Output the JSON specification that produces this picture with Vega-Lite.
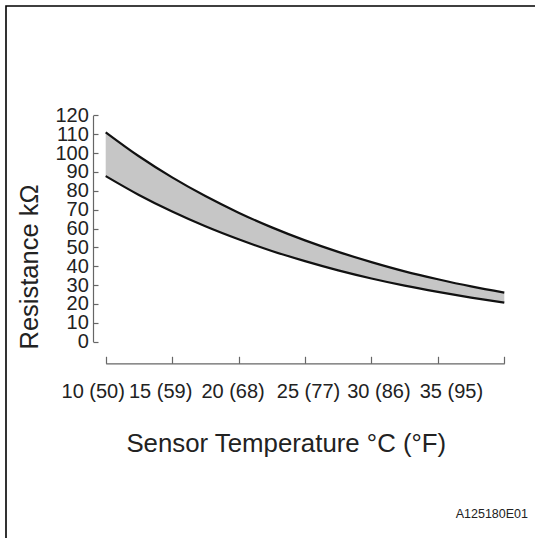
{
  "$schema": "https://vega.github.io/schema/vega-lite/v6.json",
  "autosize": "none",
  "padding": {"left": 6, "top": 6, "right": 0, "bottom": 0},
  "width": 529,
  "height": 532,
  "background": "white",
  "config": {
    "view": {"stroke": "#000", "strokeWidth": 1.6, "strokeDash": [529, 1061, 532]},
    "font": "Liberation Sans"
  },
  "title": {
    "text": "A125180E01",
    "orient": "bottom",
    "anchor": "end",
    "frame": "group",
    "baseline": "alphabetic",
    "offset": -20.5,
    "dx": -7,
    "fontSize": 12.5,
    "fontWeight": "normal",
    "color": "#222"
  },
  "data": {
    "values": [
      {"t": 10, "upper": 111, "lower": 87.8},
      {"t": 12.5, "upper": 98.3, "lower": 77.8},
      {"t": 15, "upper": 87.1, "lower": 69.0},
      {"t": 17.5, "upper": 77.2, "lower": 61.2},
      {"t": 20, "upper": 68.4, "lower": 54.3},
      {"t": 22.5, "upper": 60.6, "lower": 48.1},
      {"t": 25, "upper": 53.7, "lower": 42.7},
      {"t": 27.5, "upper": 47.6, "lower": 37.8},
      {"t": 30, "upper": 42.2, "lower": 33.5},
      {"t": 32.5, "upper": 37.3, "lower": 29.7},
      {"t": 35, "upper": 33.1, "lower": 26.4},
      {"t": 37.5, "upper": 29.3, "lower": 23.4},
      {"t": 40, "upper": 26.0, "lower": 20.7}
    ]
  },
  "layer": [
    {
      "mark": {"type": "area", "color": "#c6c6c6", "interpolate": "monotone"},
      "encoding": {
        "x": {
          "field": "t",
          "type": "quantitative",
          "scale": {"domain": [10, 40], "range": [99.7, 498.3]},
          "axis": {
            "values": [10, 15, 20, 25, 30, 35, 40],
            "labelExpr": "datum.value == 40 ? '' : datum.value + ' (' + (datum.value * 9 / 5 + 32) + ')'",
            "orient": "bottom",
            "offset": -174.7,
            "tickSize": -7,
            "labelPadding": 40.7,
            "labelBaseline": "alphabetic",
            "labelFontSize": 20,
            "labelColor": "#222",
            "labelFlush": false,
            "labelOverlap": false,
            "labelBound": false,
            "labelOffset": {
              "condition": [
                {"test": "datum.value == 10", "value": -13},
                {"test": "datum.value == 15", "value": -12},
                {"test": "datum.value == 20", "value": -6},
                {"test": "datum.value == 25", "value": 3},
                {"test": "datum.value == 30", "value": 7},
                {"test": "datum.value == 35", "value": 13}
              ],
              "value": 0
            },
            "domainColor": "#666",
            "tickColor": "#666",
            "domainWidth": 1.2,
            "tickWidth": 1.2,
            "grid": false,
            "title": "Sensor Temperature °C (°F)",
            "titleFontSize": 25.8,
            "titleFontWeight": "normal",
            "titleColor": "#222",
            "titleBaseline": "alphabetic",
            "titleAlign": "center",
            "titleX": 279.8,
            "titleY": 88.4
          }
        },
        "y": {
          "field": "upper",
          "type": "quantitative",
          "scale": {"domain": [0, 120], "range": [335.7, 109.3]},
          "axis": {
            "values": [0, 10, 20, 30, 40, 50, 60, 70, 80, 90, 100, 110, 120],
            "orient": "left",
            "offset": -87,
            "tickSize": -5,
            "labelPadding": 9.7,
            "labelFontSize": 20,
            "labelColor": "#222",
            "labelFlush": false,
            "labelOverlap": false,
            "labelBound": false,
            "domainColor": "#666",
            "tickColor": "#666",
            "domainWidth": 1.2,
            "tickWidth": 1.2,
            "grid": false,
            "title": "Resistance kΩ",
            "titleFontSize": 25.5,
            "titleFontWeight": "normal",
            "titleColor": "#222",
            "titleBaseline": "alphabetic",
            "titleAlign": "center",
            "titleAngle": 270,
            "titleX": -56,
            "titleY": 260.5
          }
        },
        "y2": {"field": "lower"}
      }
    },
    {
      "mark": {"type": "line", "color": "#111", "strokeWidth": 2.2, "interpolate": "monotone"},
      "encoding": {
        "x": {"field": "t", "type": "quantitative"},
        "y": {"field": "upper", "type": "quantitative"}
      }
    },
    {
      "mark": {"type": "line", "color": "#111", "strokeWidth": 2.2, "interpolate": "monotone"},
      "encoding": {
        "x": {"field": "t", "type": "quantitative"},
        "y": {"field": "lower", "type": "quantitative"}
      }
    }
  ]
}
